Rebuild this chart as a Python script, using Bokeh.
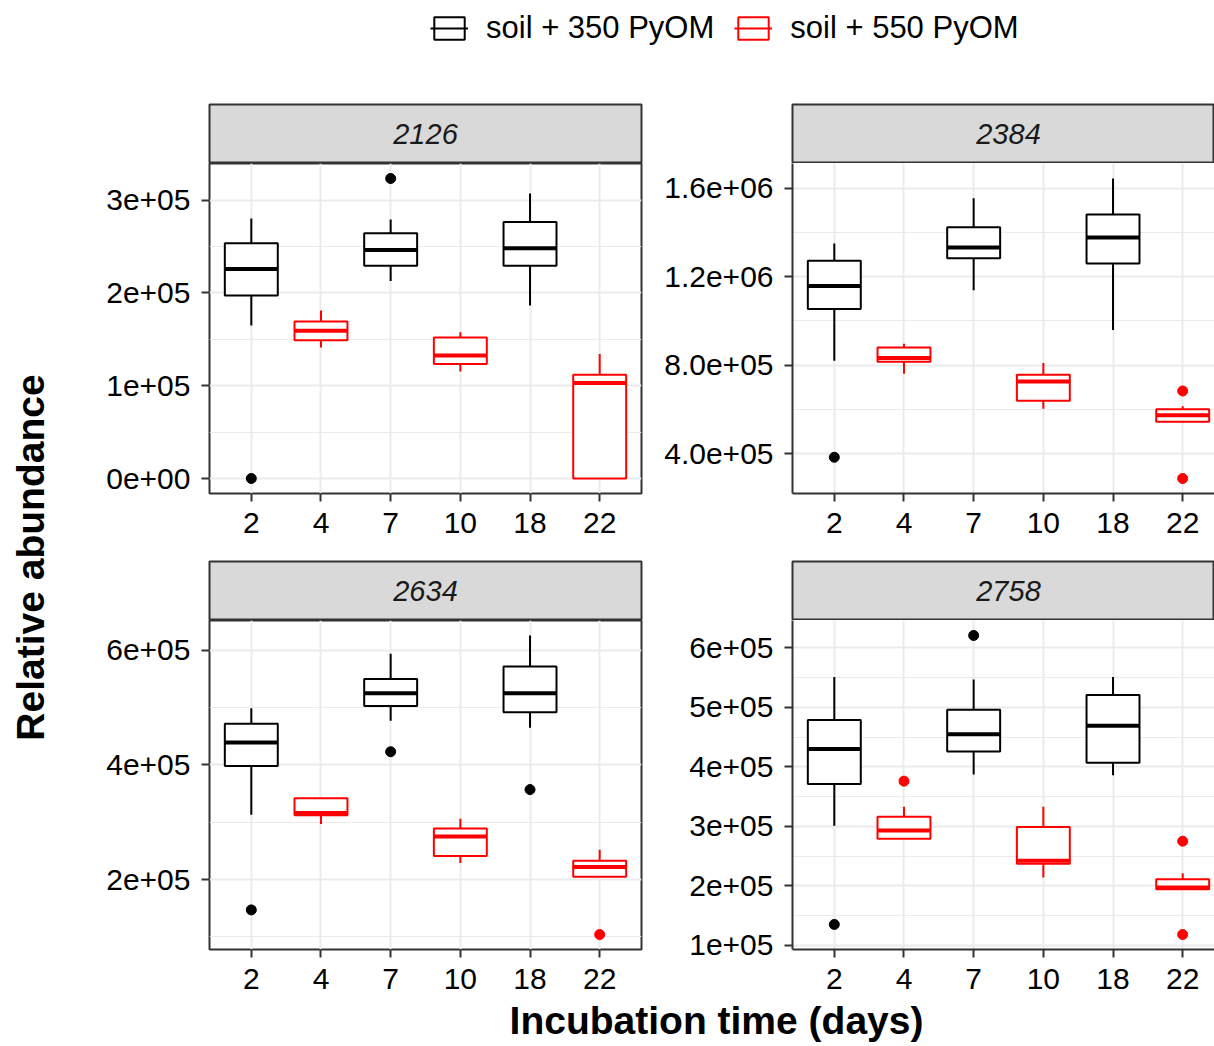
import numpy as np
from bokeh.plotting import figure
from bokeh.models import (Range1d, FixedTicker, ColumnDataSource, Label, Legend, LegendItem)
from bokeh.layouts import column, row
from bokeh.embed import file_html
from bokeh.resources import INLINE

# ---------------- data ----------------
days = ["2", "4", "7", "10", "18", "22"]
treatment = ["350", "550", "350", "550", "350", "550"]   # group per day
panels = ["2126", "2384", "2634", "2758"]

# box statistics per panel (order of days)
lower = {
    "2126": [1.649e5, 1.412e5, 2.129e5, 1.154e5, 1.864e5, 0.0],
    "2384": [8.20e5, 7.61e5, 1.138e6, 6.03e5, 9.59e5, 5.40e5],
    "2634": [3.13e5, 2.97e5, 4.77e5, 2.29e5, 4.65e5, 2.05e5],
    "2758": [3.01e5, 2.79e5, 3.87e5, 2.14e5, 3.86e5, 1.94e5],
}
q1 = {
    "2126": [1.971e5, 1.491e5, 2.294e5, 1.233e5, 2.294e5, 0.0],
    "2384": [1.054e6, 8.15e5, 1.283e6, 6.39e5, 1.260e6, 5.44e5],
    "2634": [3.98e5, 3.12e5, 5.03e5, 2.41e5, 4.92e5, 2.05e5],
    "2758": [3.71e5, 2.79e5, 4.26e5, 2.37e5, 4.07e5, 1.94e5],
}
median = {
    "2126": [2.258e5, 1.591e5, 2.462e5, 1.326e5, 2.48e5, 1.029e5],
    "2384": [1.158e6, 8.32e5, 1.332e6, 7.26e5, 1.377e6, 5.73e5],
    "2634": [4.39e5, 3.16e5, 5.25e5, 2.75e5, 5.25e5, 2.22e5],
    "2758": [4.30e5, 2.93e5, 4.55e5, 2.42e5, 4.69e5, 1.97e5],
}
q3 = {
    "2126": [2.534e5, 1.692e5, 2.642e5, 1.520e5, 2.763e5, 1.118e5],
    "2384": [1.272e6, 8.80e5, 1.423e6, 7.56e5, 1.481e6, 6.00e5],
    "2634": [4.72e5, 3.42e5, 5.50e5, 2.89e5, 5.72e5, 2.33e5],
    "2758": [4.79e5, 3.16e5, 4.96e5, 2.99e5, 5.21e5, 2.11e5],
}
upper = {
    "2126": [2.803e5, 1.81e5, 2.792e5, 1.577e5, 3.072e5, 1.341e5],
    "2384": [1.350e6, 8.96e5, 1.555e6, 8.09e5, 1.644e6, 6.14e5],
    "2634": [4.99e5, 3.42e5, 5.94e5, 3.06e5, 6.26e5, 2.52e5],
    "2758": [5.51e5, 3.33e5, 5.47e5, 3.33e5, 5.51e5, 2.21e5],
}
# outliers: (panel, day, value)
out_panel = ["2126", "2126", "2384", "2384", "2384", "2634", "2634", "2634", "2634",
             "2758", "2758", "2758", "2758", "2758"]
out_day = ["2", "7", "2", "22", "22", "2", "7", "18", "22",
           "2", "4", "7", "22", "22"]
out_value = [0.0, 3.233e5, 3.83e5, 6.83e5, 2.87e5, 1.47e5, 4.23e5, 3.57e5, 1.04e5,
             1.35e5, 3.76e5, 6.21e5, 2.75e5, 1.18e5]

# y tick labels
y_ticks = {
    "2126": [0, 1e5, 2e5, 3e5],
    "2384": [4e5, 8e5, 1.2e6, 1.6e6],
    "2634": [2e5, 4e5, 6e5],
    "2758": [1e5, 2e5, 3e5, 4e5, 5e5, 6e5],
}
y_tick_labels = {
    "2126": ["0e+00", "1e+05", "2e+05", "3e+05"],
    "2384": ["4.0e+05", "8.0e+05", "1.2e+06", "1.6e+06"],
    "2634": ["2e+05", "4e+05", "6e+05"],
    "2758": ["1e+05", "2e+05", "3e+05", "4e+05", "5e+05", "6e+05"],
}
legend_labels = {"350": "soil + 350 PyOM", "550": "soil + 550 PyOM"}
x_title = "Incubation time (days)"
y_title = "Relative abundance"

# ---------------- style ----------------
FONT = "Liberation Sans"
COLORS = {"350": "#000000", "550": "#FF0000"}
BOX_W = 0.76
PX_PER_UNIT = 432 / 6.2
GRID = "#EBEBEB"
BORDER = "#333333"


def make_panel(name, fig_w, fig_h, left, right, bottom, frame_w, right_panel):
    xpos = np.arange(len(days)) + 1.0
    x_start = 0.4
    x_end = x_start + frame_w / PX_PER_UNIT
    allv = lower[name] + upper[name] + [v for pn, v in zip(out_panel, out_value) if pn == name]
    lo, hi = min(allv), max(allv)
    pad = 0.05 * (hi - lo)
    p = figure(width=fig_w, height=fig_h, output_backend="svg", toolbar_location=None,
               x_range=Range1d(x_start, x_end), y_range=Range1d(lo - pad, hi + pad),
               min_border_left=left, min_border_right=right, min_border_top=0,
               min_border_bottom=bottom)
    cols = [COLORS[t] for t in treatment]
    src = ColumnDataSource(dict(x=xpos, lower=lower[name], q1=q1[name], med=median[name],
                                q3=q3[name], upper=upper[name], color=cols,
                                x0=xpos - BOX_W / 2, x1=xpos + BOX_W / 2))
    p.segment(x0="x", x1="x", y0="q3", y1="upper", line_color="color", line_width=2, source=src)
    p.segment(x0="x", x1="x", y0="lower", y1="q1", line_color="color", line_width=2, source=src)
    p.vbar(x="x", top="q3", bottom="q1", width=BOX_W, fill_color="white",
           line_color="color", line_width=2, source=src)
    p.segment(x0="x0", x1="x1", y0="med", y1="med", line_color="color", line_width=4,
              line_cap="butt", source=src)
    ox, oy, oc = [], [], []
    for pn, d, v in zip(out_panel, out_day, out_value):
        if pn == name:
            i = days.index(d)
            ox.append(xpos[i]); oy.append(v); oc.append(COLORS[treatment[i]])
    p.scatter(x=ox, y=oy, color=oc, size=10, marker="circle")

    # axes
    p.xaxis.ticker = FixedTicker(ticks=list(xpos))
    p.xaxis.major_label_overrides = {float(x): d for x, d in zip(xpos, days)}
    yt = y_ticks[name]
    step = yt[1] - yt[0]
    minors = [t + step / 2 for t in [yt[0] - step] + yt]
    p.yaxis.ticker = FixedTicker(ticks=yt, minor_ticks=minors)
    p.yaxis.major_label_overrides = {float(t): s for t, s in zip(yt, y_tick_labels[name])}
    for ax in (p.xaxis[0], p.yaxis[0]):
        ax.major_label_text_font = FONT
        ax.major_label_text_font_size = "30px"
        ax.major_label_text_color = "#000000"
        ax.major_tick_line_color = BORDER
        ax.major_tick_line_width = 2
        ax.major_tick_out = 8
        ax.major_tick_in = 0
        ax.minor_tick_line_color = None
    p.xaxis.major_label_standoff = 11
    p.yaxis.major_label_standoff = 11
    if right_panel:
        p.outline_line_color = None
        p.xaxis.axis_line_color = BORDER
        p.yaxis.axis_line_color = BORDER
        p.xaxis.axis_line_width = 2
        p.yaxis.axis_line_width = 2
    else:
        p.outline_line_color = BORDER
        p.outline_line_width = 2
        p.xaxis.axis_line_color = None
        p.yaxis.axis_line_color = None
    p.xgrid.grid_line_color = GRID
    p.xgrid.grid_line_width = 2
    p.ygrid.grid_line_color = GRID
    p.ygrid.grid_line_width = 2
    p.ygrid.minor_grid_line_color = GRID
    p.ygrid.minor_grid_line_width = 1.2
    p.background_fill_color = "white"
    return p


def make_strip(name, fig_w, fig_h, left, right, top, right_panel):
    s = figure(width=fig_w, height=fig_h, output_backend="svg", toolbar_location=None,
               x_range=Range1d(0, 1), y_range=Range1d(0, 1),
               min_border_left=left, min_border_right=right, min_border_top=top,
               min_border_bottom=0, x_axis_location=None, y_axis_location=None)
    s.grid.visible = False
    s.background_fill_color = "#D9D9D9"
    s.outline_line_color = BORDER
    s.outline_line_width = 2
    cx = 0.5 if not right_panel else (432 / 2) / (fig_w - left - right)
    s.add_layout(Label(x=cx, y=0.5, text=name, text_align="center", text_baseline="middle",
                       text_font=FONT, text_font_size="29px", text_font_style="italic",
                       text_color="#1A1A1A"))
    return s


LW, RW = 590, 564
# left column
s_tl = make_strip("2126", LW, 103, 149, 9, 44, False)
p_tl = make_panel("2126", LW, 382, 149, 9, 52, 432, False)
s_bl = make_strip("2634", LW, 75, 149, 9, 16, False)
p_bl = make_panel("2634", LW, 380, 149, 9, 51, 432, False)
# right column
s_tr = make_strip("2384", RW, 103, 142, 0, 44, True)
p_tr = make_panel("2384", RW, 382, 142, 0, 52, 422, True)
s_br = make_strip("2758", RW, 75, 142, 0, 16, True)
p_br = make_panel("2758", RW, 380, 142, 0, 51, 422, True)

# y title
yt_fig = figure(width=60, height=940, output_backend="svg", toolbar_location=None,
                x_range=Range1d(0, 60), y_range=Range1d(0, 940), min_border=0,
                x_axis_location=None, y_axis_location=None)
yt_fig.grid.visible = False
yt_fig.outline_line_color = None
yt_fig.add_layout(Label(x=30, y=443, text=y_title, angle=np.pi / 2, text_align="center",
                        text_baseline="middle", text_font=FONT, text_font_size="39px",
                        text_font_style="bold", text_color="#000000"))

# x title
xt_fig = figure(width=1214, height=46, output_backend="svg", toolbar_location=None,
                x_range=Range1d(0, 1214), y_range=Range1d(0, 46), min_border=0,
                x_axis_location=None, y_axis_location=None)
xt_fig.grid.visible = False
xt_fig.outline_line_color = None
xt_fig.add_layout(Label(x=716, y=26, text=x_title, text_align="center",
                        text_baseline="middle", text_font=FONT, text_font_size="39px",
                        text_font_style="bold", text_color="#000000"))

# legend (its renderers carry the group's boxes but are hidden; only the keys are drawn)
lg = figure(width=1214, height=60, output_backend="svg", toolbar_location=None,
            x_range=Range1d(10, 20), y_range=Range1d(-4e5, -3e5), min_border=0,
            x_axis_location=None, y_axis_location=None)
lg.grid.visible = False
lg.outline_line_color = None
items = []
for key in ["350", "550"]:
    idx = [i for i, t in enumerate(treatment) if t == key]
    src = ColumnDataSource(dict(x=[i + 1.0 for i in idx],
                                top=[q3["2126"][i] for i in idx],
                                bottom=[q1["2126"][i] for i in idx],
                                y=[median["2126"][i] for i in idx]))
    rb = lg.vbar(x="x", top="top", bottom="bottom", width=0.5, fill_color="white",
                 line_color=COLORS[key], line_width=2, source=src)
    rm = lg.line(x="x", y="y", line_color=COLORS[key], line_width=2, source=src)
    rb.visible = False
    rm.visible = False
    items.append(LegendItem(label=legend_labels[key], renderers=[rb, rm]))
legend = Legend(items=items, orientation="horizontal", location=(430, 14),
                glyph_width=38, glyph_height=28, label_standoff=18, spacing=20,
                padding=0, margin=0, border_line_color=None, background_fill_alpha=0,
                inactive_fill_alpha=0, click_policy="none",
                label_text_font=FONT, label_text_font_size="31px", label_text_color="#000000")
lg.add_layout(legend, "center")

layout = column(lg,
                row(yt_fig, column(s_tl, p_tl, s_bl, p_bl), column(s_tr, p_tr, s_br, p_br)),
                xt_fig)

open("out.html", "w").write(file_html(layout, INLINE))
